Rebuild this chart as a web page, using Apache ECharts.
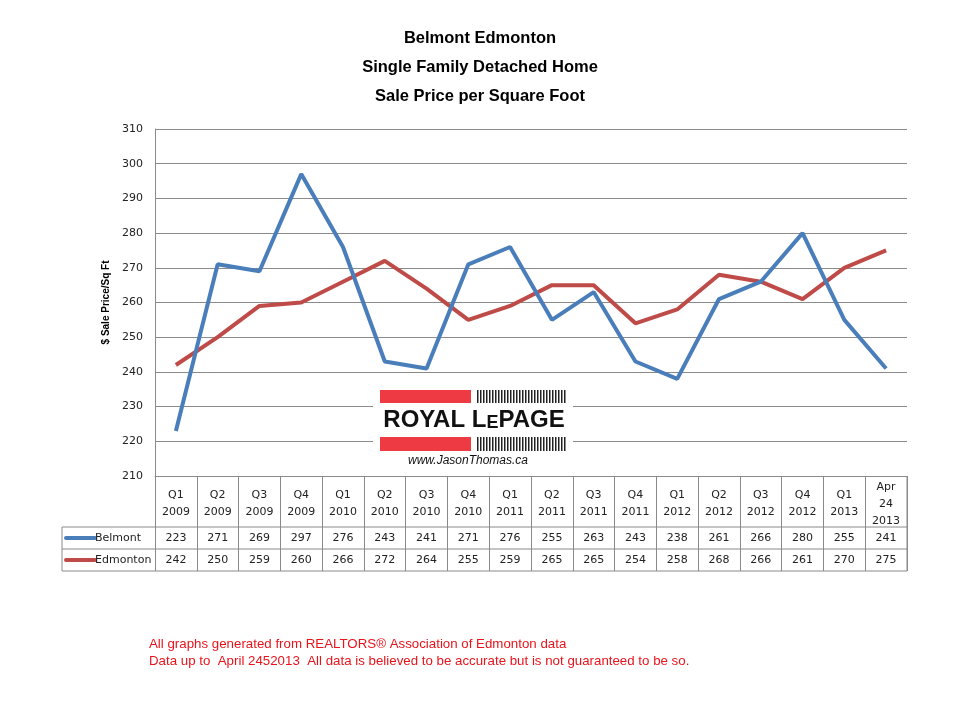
<!DOCTYPE html>
<html><head><meta charset="utf-8">
<script src="https://cdn.jsdelivr.net/npm/echarts@6/dist/echarts.min.js"></script>
<style>html,body{margin:0;padding:0;background:#fff}#c{width:960px;height:720px}</style>
</head><body><div id="c"></div>
<script>
const categories = ['Q1\n2009','Q2\n2009','Q3\n2009','Q4\n2009','Q1\n2010','Q2\n2010','Q3\n2010','Q4\n2010','Q1\n2011','Q2\n2011','Q3\n2011','Q4\n2011','Q1\n2012','Q2\n2012','Q3\n2012','Q4\n2012','Q1\n2013','Apr\n24\n2013'];
const belmont = [223,271,269,297,276,243,241,271,276,255,263,243,238,261,266,280,255,241];
const edmonton = [242,250,259,260,266,272,264,255,259,265,265,254,258,268,266,261,270,275];
const titleLines = ['Belmont Edmonton','Single Family Detached Home','Sale Price per Square Foot'];
const footer = ['All graphs generated from REALTORS® Association of Edmonton data','Data up to  April 2452013  All data is believed to be accurate but is not guaranteed to be so.'];

const BLUE = '#4a7ebb', RED = '#be4b48', GRID = '#8a8a8a';
const chart = echarts.init(document.getElementById('c'), null, {renderer:'canvas'});
const FONT = 'Liberation Sans';
const L = 155, R = 907, T = 129, B = 476;

const option = {
  backgroundColor:'#fff',
  animation:false,
  textStyle:{fontFamily:'DejaVu Sans'},
  title: titleLines.map((t,i)=>({text:t,left:'center',top:25+i*29,textStyle:{fontFamily:FONT,fontSize:16.5,fontWeight:'bold',color:'#000'}})),
  grid:{left:L,right:960-R,top:T,bottom:720-B,containLabel:false},
  xAxis:{type:'category',data:categories,boundaryGap:true,
    axisLine:{show:true,lineStyle:{color:GRID,width:1}},
    axisTick:{show:true,interval:0,length:95,lineStyle:{color:GRID,width:1}},
    axisLabel:{interval:0,margin:28,verticalAlign:'middle',fontSize:11,lineHeight:17,color:'#222',fontFamily:'DejaVu Sans'}},
  yAxis:{type:'value',min:210,max:310,interval:10,
    name:'$ Sale Price/Sq Ft',nameLocation:'middle',nameGap:42,nameRotate:90,
    nameTextStyle:{fontSize:10,fontWeight:'bold',color:'#000',fontFamily:FONT},
    axisLine:{show:true,lineStyle:{color:GRID}},axisTick:{show:false},
    splitLine:{lineStyle:{color:GRID,width:1}},
    axisLabel:{fontSize:11,color:'#222',margin:12,fontFamily:'DejaVu Sans'}},
  series:[
    {name:'Belmont',type:'line',data:belmont,symbol:'none',lineStyle:{color:BLUE,width:4},itemStyle:{color:BLUE},z:3},
    {name:'Edmonton',type:'line',data:edmonton,symbol:'none',lineStyle:{color:RED,width:4},itemStyle:{color:RED},z:2}
  ]
};
chart.setOption(option);

const g = [];
// logo
g.push({type:'rect',shape:{x:373,y:383,width:200,height:88},style:{fill:'#fff'},z:10});
g.push({type:'rect',shape:{x:380,y:390,width:91,height:13},style:{fill:'#ee3a43'},z:11});
g.push({type:'rect',shape:{x:380,y:437,width:91,height:14},style:{fill:'#ee3a43'},z:11});
for (let k=0;k<30;k++){
  const x = 477 + k*3;
  g.push({type:'rect',shape:{x:x,y:390,width:1.5,height:13},style:{fill:'#222'},z:11});
  g.push({type:'rect',shape:{x:x,y:437,width:1.5,height:14},style:{fill:'#222'},z:11});
}
g.push({type:'text',x:474,y:420,z:11,style:{text:'{a|ROYAL L}{b|E}{a|PAGE}',align:'center',verticalAlign:'middle',
  rich:{a:{fontFamily:FONT,fontWeight:'bold',fontSize:24,fill:'#111'},b:{fontFamily:FONT,fontWeight:'bold',fontSize:18,fill:'#111',verticalAlign:'bottom'}}}});
g.push({type:'text',x:468,y:461,z:11,style:{text:'www.JasonThomas.ca',align:'center',verticalAlign:'middle',fontFamily:FONT,fontStyle:'italic',fontSize:12,fill:'#111'}});
// table lines
[527,549,571].forEach(y=>g.push({type:'line',shape:{x1:62,y1:y,x2:R,y2:y},style:{stroke:GRID,lineWidth:1},z:5}));
g.push({type:'line',shape:{x1:62,y1:527,x2:62,y2:571},style:{stroke:GRID,lineWidth:1},z:5});
g.push({type:'line',shape:{x1:R,y1:B,x2:R,y2:571},style:{stroke:GRID,lineWidth:1},z:5});
// legend keys
[[BLUE,'Belmont',538],[RED,'Edmonton',560]].forEach(([c,t,y])=>{
  g.push({type:'line',shape:{x1:66,y1:y,x2:95,y2:y},style:{stroke:c,lineWidth:4,lineCap:'round'},z:6});
  g.push({type:'text',x:95,y:y,style:{text:t,align:'left',verticalAlign:'middle',fontFamily:'DejaVu Sans',fontSize:11,fill:'#222'},z:6});
});
// values
[[belmont,538],[edmonton,560]].forEach(([arr,y])=>{
  arr.forEach((v,i)=>{
    const x = chart.convertToPixel({xAxisIndex:0}, i);
    g.push({type:'text',x:x,y:y,style:{text:String(v),align:'center',verticalAlign:'middle',fontFamily:'DejaVu Sans',fontSize:11,fill:'#222'},z:6});
  });
});
// footer
footer.forEach((t,i)=>g.push({type:'text',x:149,y:644+i*17,style:{text:t,align:'left',verticalAlign:'middle',fontFamily:FONT,fontSize:13.3,fill:'#e8141c'}}));
chart.setOption({graphic:{elements:g}});
</script></body></html>
